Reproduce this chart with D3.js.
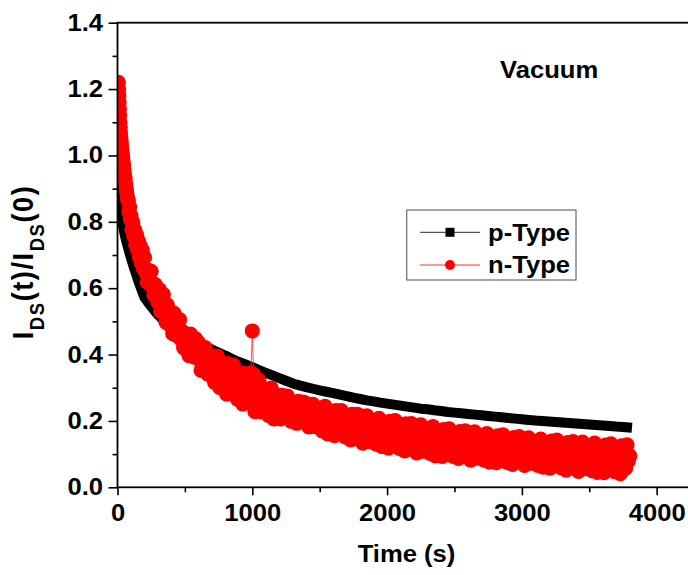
<!DOCTYPE html>
<html><head><meta charset="utf-8">
<script src="https://cdn.jsdelivr.net/npm/d3@7"></script>
<style>
body{margin:0;background:#fff}
svg{display:block}
text{font-family:"Liberation Sans",Arial,sans-serif;font-weight:bold;fill:#000}
</style>
</head><body>
<svg id="chart" width="688" height="575"></svg>
<script>
// ---------- data ----------
const xTicks = [0, 1000, 2000, 3000, 4000];
const xMinorTicks = [500, 1500, 2500, 3500];
const yTicks = [0, 0.2, 0.4, 0.6, 0.8, 1.0, 1.2, 1.4];
const yMinorTicks = [0.1, 0.3, 0.5, 0.7, 0.9, 1.1, 1.3];
const seriesNames = ["p-Type", "n-Type"];
const annotation = "Vacuum";

// p-Type (black squares)
const pTimeEarly = [0,3,6,10,15,20,25,30,36,42,50,58,66,75,85,95,105,117,130,143,157,171,185];
const pValueEarly = [0.96,0.935,0.915,0.89,0.865,0.845,0.83,0.815,0.80,0.785,0.768,0.753,0.74,0.727,0.712,0.698,0.684,0.668,0.652,0.636,0.619,0.603,0.588];
const pTimeMid = d3.range(200, 1001, 25);
const pValueMid = [.572,.558,.545,.532,.520,.510,.501,.492,.483,.476,.470,.464,.458,.453,.448,.443,.438,.432,.426,.420,.415,.410,.406,.401,.397,.392,.387,.382,.378,.374,.370,.366,.362];
const pTimeLate = d3.range(1050, 3751, 50).concat([3780]);
const pValueLate = [.353,.345,.337,.329,.321,.313,.307,.302,.297,.292,.288,.284,.279,.275,.270,.266,.262,.259,.255,.252,
  .249,.246,.243,.240,.237,.235,.232,.230,.227,.225,.223,.221,.219,.217,.215,.213,.211,.209,.207,.205,
  .203,.201,.1995,.198,.1965,.195,.1935,.192,.1905,.189,.1875,.186,.1845,.183,.182,.181];

// n-Type (red circles)
const nTimeEarly = [6,8,10,12,14,16,18,20,22,24,26,28,30,32,34,36,38,40,44,48,52,56,60,64,68,72,76,80,85,90,95,100,107,114,121,128,135,142,149,156,163,170,177,184,191];
const nValueEarly = [1.22,1.20,1.18,1.16,1.14,1.12,1.10,1.085,1.07,1.055,1.045,1.035,1.025,1.015,1.007,1.0,0.993,0.986,
  0.972,0.958,0.944,0.93,0.916,0.903,0.89,0.878,0.866,0.865,0.830,0.845,0.808,0.818,
  0.777,0.798,0.758,0.775,0.732,0.76,0.716,0.742,0.693,0.727,0.677,0.715,0.661];
const nTimeMain = d3.range(200, 3801, 10);
const nValueMain = [
  .692,.648,.618,.654,.612,.651,.615,.579,.611,.578,
  .558,.596,.529,.560,.581,.525,.497,.549,.517,.489,
  .517,.463,.524,.480,.457,.497,.505,.447,.470,.422,
  .418,.462,.438,.397,.462,.413,.445,.392,.447,.401,
  .436,.384,.352,.409,.361,.421,.381,.341,.394,.358,
  .340,.395,.316,.362,.395,.330,.300,.374,.339,.309,
  .353,.281,.373,.316,.288,.351,.368,.291,.328,.266,
  .268,.331,.303,.251,.343,.281,.328,.261,.338,.345,
  .471,.340,.228,.301,.244,.322,.274,.227,.295,.252,
  .238,.295,.217,.265,.299,.235,.206,.281,.248,.220,
  .260,.206,.277,.234,.213,.261,.275,.217,.246,.199,
  .204,.248,.230,.193,.259,.216,.249,.203,.257,.218,
  .252,.208,.182,.234,.194,.250,.216,.183,.232,.202,
  .188,.239,.170,.213,.244,.187,.161,.228,.199,.174,
  .213,.156,.231,.186,.165,.216,.231,.170,.201,.152,
  .154,.207,.185,.143,.220,.170,.210,.155,.220,.174,
  .215,.164,.133,.196,.149,.215,.176,.138,.196,.161,
  .148,.202,.130,.175,.208,.149,.123,.194,.163,.137,
  .179,.118,.199,.151,.129,.184,.201,.136,.169,.117,
  .121,.176,.154,.110,.191,.139,.181,.124,.192,.144,
  .187,.135,.104,.168,.120,.188,.149,.109,.169,.134,
  .121,.176,.102,.149,.183,.122,.095,.168,.137,.111,
  .153,.093,.174,.126,.104,.159,.176,.111,.145,.093,
  .097,.152,.130,.087,.168,.116,.158,.102,.170,.122,
  .165,.113,.082,.146,.098,.167,.127,.088,.148,.113,
  .100,.155,.082,.128,.162,.102,.076,.148,.118,.092,
  .134,.074,.155,.107,.085,.141,.158,.093,.127,.075,
  .079,.134,.112,.069,.150,.098,.141,.084,.153,.105,
  .147,.096,.066,.129,.082,.149,.111,.073,.131,.097,
  .084,.138,.066,.112,.145,.086,.061,.132,.102,.076,
  .118,.058,.139,.091,.069,.125,.142,.077,.111,.059,
  .062,.119,.096,.052,.135,.082,.125,.068,.138,.089,
  .133,.079,.048,.114,.065,.136,.096,.056,.117,.082,
  .068,.125,.050,.098,.133,.071,.045,.119,.088,.062,
  .106,.044,.127,.079,.056,.113,.131,.065,.100,.047,
  .051,.108,.086,.041,.125,.072,.116,.058,.128,.080,
  .095];

const pTime = pTimeEarly.concat(pTimeMid, pTimeLate);
const pValue = pValueEarly.concat(pValueMid, pValueLate);
const nTime = nTimeEarly.concat(nTimeMain);
const nValue = nValueEarly.concat(nValueMain);
const pData = pTime.map((t, i) => [t, pValue[i]]);
const nData = nTime.map((t, i) => [t, nValue[i]]);

// ---------- layout ----------
const svg = d3.select("#chart");
const SX = 1.09;   // horizontal text stretch
const FS = 23.5;
const x = d3.scaleLinear().domain([0, 4300]).range([117.5, 697.1]);
const y = d3.scaleLinear().domain([0, 1.4]).range([487.3, 22.7]);
const [xl, xr] = x.range();
const [yb, yt] = y.range();

svg.append("defs").append("clipPath").attr("id", "clip")
  .append("rect").attr("x", xl).attr("y", yt).attr("width", xr - xl).attr("height", yb - yt);

const plot = svg.append("g").attr("clip-path", "url(#clip)");
const line = d3.line().x(d => x(d[0])).y(d => y(d[1]));

// p-Type: dense square symbols merge into a band
const BAND = 10, SQ = 7;
plot.append("path").datum(pData).attr("d", line)
  .attr("fill", "none").attr("stroke", "#000").attr("stroke-width", BAND)
  .attr("stroke-linejoin", "round").attr("stroke-linecap", "square");
plot.append("g").selectAll("rect").data(pData).join("rect")
  .attr("x", d => x(d[0]) - SQ / 2).attr("y", d => y(d[1]) - SQ / 2)
  .attr("width", SQ).attr("height", SQ).attr("fill", "#000");

// n-Type
plot.append("path").datum(nData).attr("d", line)
  .attr("fill", "none").attr("stroke", "#ff3030").attr("stroke-width", 1).attr("stroke-opacity", 0.85);
plot.append("g").selectAll("circle").data(nData).join("circle")
  .attr("cx", d => x(d[0])).attr("cy", d => y(d[1])).attr("r", 7.6).attr("fill", "#ff0000");

// ---------- axes ----------
function styleAxis(g) {
  g.select(".domain").remove();
  g.selectAll(".tick line").attr("stroke", "#000").attr("stroke-width", 1.6);
}
const gx = svg.append("g").attr("transform", `translate(0,${yb})`)
  .call(d3.axisBottom(x).tickValues(xTicks).tickSize(8).tickPadding(9).tickFormat(d3.format("d")));
styleAxis(gx);
gx.selectAll(".tick text").attr("font-size", FS).attr("transform", `scale(${SX},1)`)
  .attr("font-family", "Liberation Sans, Arial, sans-serif").attr("font-weight", "bold");
const gxm = svg.append("g").attr("transform", `translate(0,${yb})`)
  .call(d3.axisBottom(x).tickValues(xMinorTicks).tickSize(5).tickFormat(""));
styleAxis(gxm);

const gy = svg.append("g").attr("transform", `translate(${xl},0)`)
  .call(d3.axisLeft(y).tickValues(yTicks).tickSize(9).tickFormat(d3.format(".1f")));
styleAxis(gy);
gy.selectAll(".tick text").attr("font-size", FS).attr("x", -14.5 / SX)
  .attr("transform", `scale(${SX},1)`)
  .attr("font-family", "Liberation Sans, Arial, sans-serif").attr("font-weight", "bold");
const gym = svg.append("g").attr("transform", `translate(${xl},0)`)
  .call(d3.axisLeft(y).tickValues(yMinorTicks).tickSize(5).tickFormat(""));
styleAxis(gym);

// frame
svg.append("rect").attr("x", xl).attr("y", yt).attr("width", xr - xl).attr("height", yb - yt)
  .attr("fill", "none").attr("stroke", "#000").attr("stroke-width", 1.8);

// ---------- titles ----------
svg.append("g").attr("transform", `translate(406.5,562) scale(${SX},1)`)
  .append("text").attr("text-anchor", "middle").attr("font-size", FS).text("Time (s)");

const yt_ = svg.append("g").attr("transform", `translate(33,262) scale(${SX},1) rotate(-90)`)
  .append("text").attr("text-anchor", "middle").attr("font-size", 27).attr("letter-spacing", 1.6);
yt_.append("tspan").text("I");
yt_.append("tspan").attr("font-size", 18.5).attr("dy", 10).text("DS");
yt_.append("tspan").attr("dy", -10).text("(t)/I");
yt_.append("tspan").attr("font-size", 18.5).attr("dy", 10).text("DS");
yt_.append("tspan").attr("dy", -10).text("(0)");

svg.append("g").attr("transform", `translate(500,78) scale(${SX},1)`)
  .append("text").attr("font-size", FS).text(annotation);

// ---------- legend ----------
const lg = svg.append("g");
lg.append("rect").attr("x", 406.7).attr("y", 210).attr("width", 169.3).attr("height", 70)
  .attr("fill", "#fff").attr("stroke", "#777").attr("stroke-width", 1.3);
const rows = [
  {name: seriesNames[0], color: "#000", lineColor: "#555", shape: "square", cy: 232.3},
  {name: seriesNames[1], color: "#ff0000", lineColor: "#ff3030", shape: "circle", cy: 265}
];
rows.forEach(r => {
  lg.append("line").attr("x1", 420).attr("x2", 480).attr("y1", r.cy).attr("y2", r.cy)
    .attr("stroke", r.lineColor).attr("stroke-width", 1.2);
  if (r.shape === "square") {
    lg.append("rect").attr("x", 450 - 4.5).attr("y", r.cy - 4.5).attr("width", 9).attr("height", 9).attr("fill", r.color);
  } else {
    lg.append("circle").attr("cx", 450).attr("cy", r.cy).attr("r", 5).attr("fill", r.color);
  }
  lg.append("g").attr("transform", `translate(488,${r.cy + 8.3}) scale(${SX},1)`)
    .append("text").attr("font-size", FS).text(r.name);
});
</script>
</body></html>
